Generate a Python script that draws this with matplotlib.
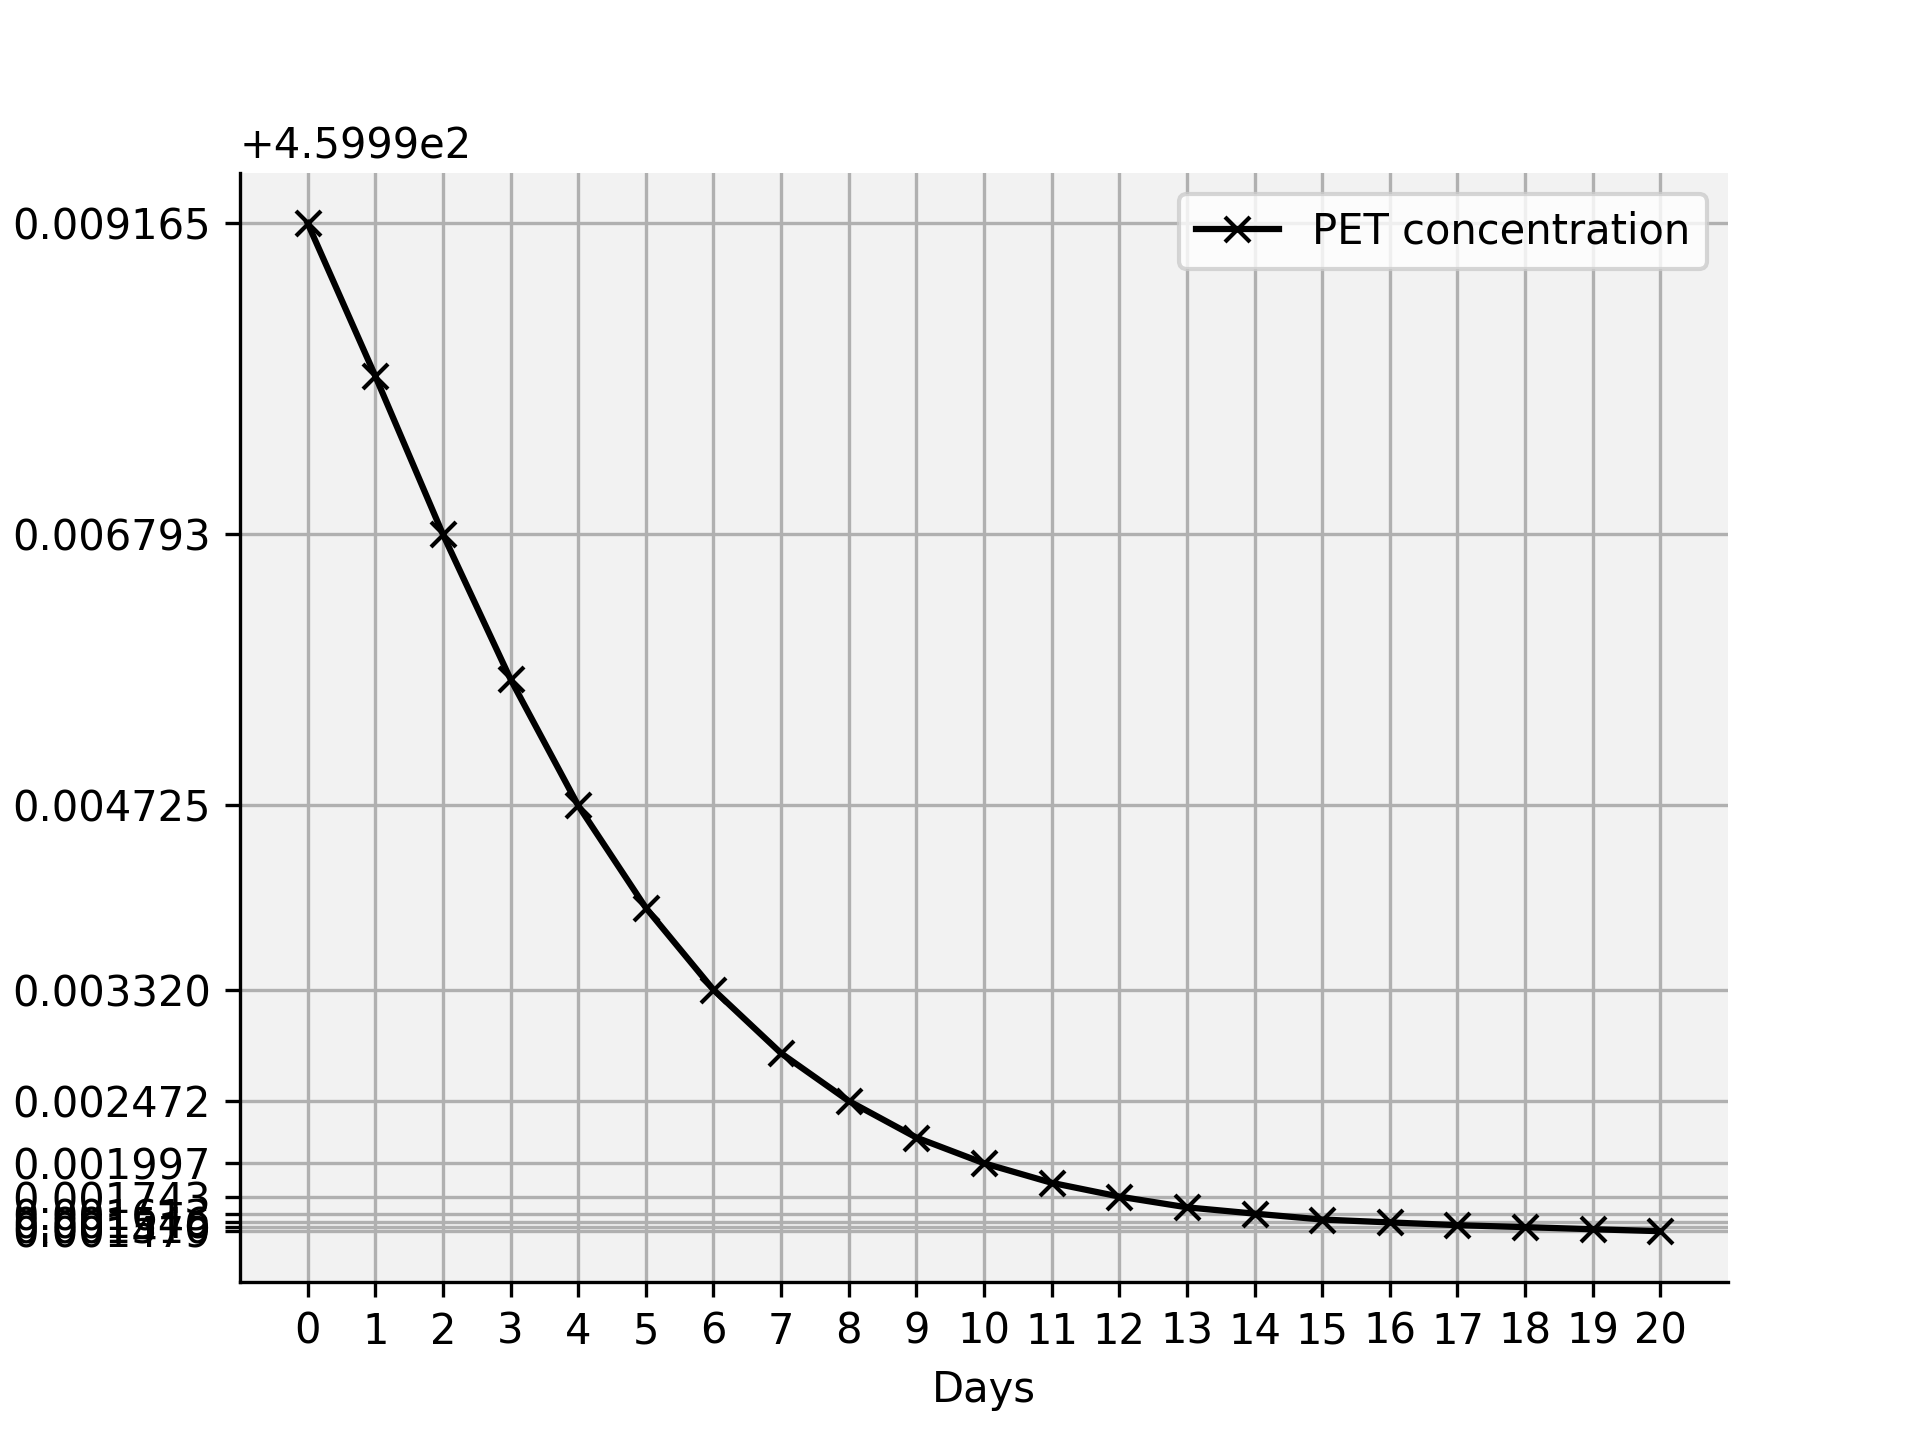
import numpy as np
import matplotlib.pyplot as plt
from matplotlib.ticker import FixedLocator, FormatStrFormatter

days = list(range(21))
# PET concentration minus offset 459.99
conc = [0.009165, 0.008000, 0.006793, 0.005688, 0.004725, 0.003945, 0.003320,
        0.002836, 0.002472, 0.002193, 0.001997, 0.001848, 0.001743, 0.001661,
        0.001613, 0.001568, 0.001546, 0.001525, 0.001510, 0.001494, 0.001479]
tick_days = [0, 2, 4, 6, 8, 10, 12, 14, 16, 18, 20]
offset_label = "+4.5999e2"

fig, ax = plt.subplots(figsize=(6.4, 4.8), dpi=300)
ax.set_facecolor('#f2f2f2')
ax.plot(days, conc, color='black', marker='x', label='PET concentration')
ax.set_xticks(days)
ax.yaxis.set_major_locator(FixedLocator([conc[d] for d in tick_days]))
ax.yaxis.set_major_formatter(FormatStrFormatter('%.6f'))
ax.grid(True, color='#b0b0b0')
ax.set_axisbelow(True)
ax.spines['top'].set_visible(False)
ax.spines['right'].set_visible(False)
ax.set_xlabel('Days')
ax.text(0, 1.005, offset_label, transform=ax.transAxes, ha='left', va='bottom')
ax.legend(loc='upper right')
fig.savefig('out.png')
